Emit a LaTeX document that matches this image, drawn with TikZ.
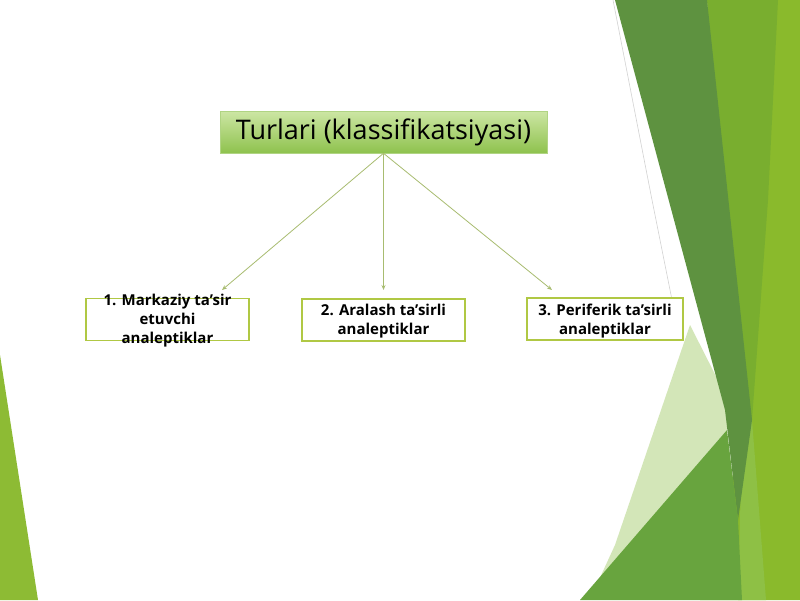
\documentclass[tikz,border=0pt]{standalone}
\usepackage{fontspec}
\setmainfont{Open Sans}
\usetikzlibrary{arrows.meta}
\definecolor{darkband}{HTML}{5E9240}
\definecolor{midband}{HTML}{79AE2F}
\definecolor{brightband}{HTML}{8ABA2C}
\definecolor{paleband}{HTML}{D3E6B8}
\definecolor{trigreen}{HTML}{68A43E}
\definecolor{stripgreen}{HTML}{8EC045}
\definecolor{leftgreen}{HTML}{8DBB34}
\definecolor{boxline}{HTML}{B0C844}
\definecolor{arrowcol}{HTML}{A8BC70}
\definecolor{titletop}{HTML}{CDE6A4}
\definecolor{titlebot}{HTML}{8EC24E}
\tikzset{
  boxshape/.style={draw=boxline, line width=1.4pt, fill=white, minimum height=42pt, inner sep=0pt},
  boxtext/.style={font=\bfseries\fontsize{15}{19}\selectfont, align=center, inner sep=0pt, text=black},
  titlebox/.style={top color=titletop, bottom color=titlebot, draw=titlebot!70!white, line width=0.6pt,
    minimum width=327pt, minimum height=42pt, inner sep=0pt, font=\fontsize{27}{30}\selectfont, text=black},
  conn/.style={draw=arrowcol, line width=0.8pt, -{Stealth[length=5pt,width=4pt]}}
}
\begin{document}
\begin{tikzpicture}[x=1pt,y=-1pt]
\useasboundingbox (0,0) rectangle (800,600);
\fill[white] (0,0) rectangle (800,600);
% decorative background
\fill[brightband] (707,0) -- (800,0) -- (800,600) -- (700,600) -- (742,440) -- cycle;
\fill[midband] (707,0) -- (778,0) -- (768,200) -- (752,420) -- (742,460) -- cycle;
\fill[stripgreen] (742,440) -- (752,420) -- (766,600) -- (738,600) -- cycle;
\fill[paleband] (690,325) -- (728,400) -- (727,430) -- (598,582) -- (615,545) -- cycle;
\fill[darkband] (615,0) -- (707,0) -- (752,420) -- (738,520) -- (725,410) -- cycle;
\fill[trigreen] (580,600) -- (727,430) -- (738,520) -- (742,600) -- cycle;
\draw[gray!35, line width=0.6pt] (613,0) -- (652,200) -- (672,300);
\fill[leftgreen] (0,355) -- (38,600) -- (0,600) -- cycle;
% diagram
\node[titlebox] (title) at (383.5,132) {Turlari (klassifikatsiyasi)};
\node[boxshape, minimum width=163pt] (b1) at (167.5,319.5) {};
\node[boxshape, minimum width=163pt] (b2) at (383.5,320) {};
\node[boxshape, minimum width=156pt] (b3) at (605,319) {};
\node[boxtext] (t1) at (167.5,321) {1. Markaziy ta’sir\\etuvchi\\analeptiklar};
\node[boxtext] (t2) at (383.5,321) {2. Aralash ta’sirli\\analeptiklar};
\node[boxtext] (t3) at (605,321) {3. Periferik ta’sirli\\analeptiklar};
\coordinate (e1) at (222,290);
\coordinate (e2) at (383.5,290);
\coordinate (e3) at (552,290);
\draw[conn] (title.south) -- (e1);
\draw[conn] (title.south) -- (e2);
\draw[conn] (title.south) -- (e3);
\end{tikzpicture}
\end{document}
